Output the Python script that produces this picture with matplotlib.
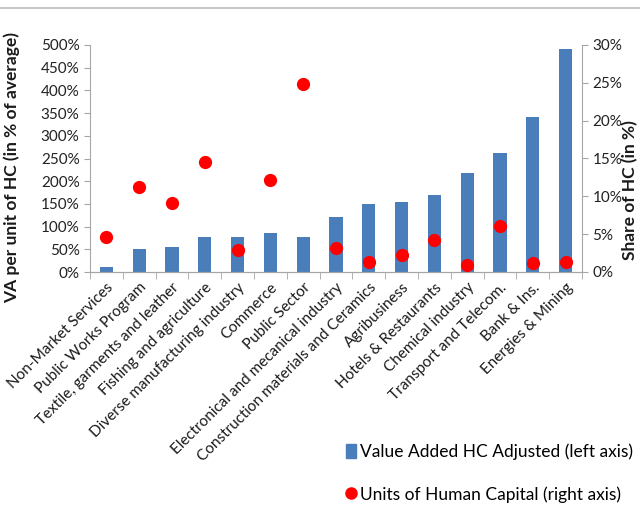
import numpy as np
import matplotlib.pyplot as plt
from matplotlib.lines import Line2D
from matplotlib.patches import Patch
from matplotlib.ticker import PercentFormatter

plt.rcParams['font.family'] = ['Lato', 'DejaVu Sans']

sectors = ["Non-Market Services", "Public Works Program", "Textile, garments and leather",
           "Fishing and agriculture", "Diverse manufacturing industry", "Commerce",
           "Public Sector", "Electronical and mecanical industry",
           "Construction materials and Ceramics", "Agribusiness", "Hotels & Restaurants",
           "Chemical industry", "Transport and Telecom.", "Bank & Ins.", "Energies & Mining"]
va_adjusted = [10, 51, 56, 77, 77, 86, 77, 122, 150, 155, 170, 218, 263, 341, 491]  # % of average
hc_share = [4.6, 11.2, 9.1, 14.6, 2.9, 12.1, 24.8, 3.2, 1.3, 2.2, 4.2, 0.9, 6.1, 1.2, 1.3]  # %

blue = '#4a7ebb'
grey = '#a6a6a6'
x = np.arange(len(sectors))

fig = plt.figure(figsize=(6.4, 5.17), dpi=100)
ax = fig.add_axes([90/640, 1-272/517, 492/640, 227/517])
ax2 = ax.twinx()

ax.bar(x, va_adjusted, width=0.4, color=blue, zorder=2)
ax2.plot(x, hc_share, 'o', color='red', markersize=8.5, zorder=3)

ax.set_xlim(-0.5, len(sectors)-0.5)
ax.set_ylim(0, 500)
ax.set_yticks(np.arange(0, 501, 50))
ax.yaxis.set_major_formatter(PercentFormatter(decimals=0))
ax2.set_ylim(0, 30)
ax2.set_yticks(np.arange(0, 31, 5))
ax2.yaxis.set_major_formatter(PercentFormatter(decimals=0))

ax.set_xticks(x)
ax.set_xticklabels(sectors, rotation=45, ha='right', rotation_mode='anchor', fontsize=11, color='#1a1a1a')
ax.set_xticks(np.arange(-0.5, len(sectors), 1), minor=True)
ax.tick_params(axis='x', which='major', length=0, pad=6)
ax.tick_params(axis='x', which='minor', length=5, color=grey)
ax.tick_params(axis='y', length=4, color=grey, labelsize=11, labelcolor='#222222')
ax2.tick_params(axis='y', length=4, color=grey, labelsize=11, labelcolor='#222222')

for a in (ax, ax2):
    a.spines['top'].set_visible(False)
    for s in ('left', 'right', 'bottom'):
        a.spines[s].set_color(grey)
ax2.spines['left'].set_visible(False)
ax.spines['right'].set_visible(False)

fig.text(12/640, 1-168/517, "VA per unit of HC (in % of average)", rotation=90,
         ha='center', va='center', fontsize=12.5, fontweight='bold', color='#1a1a1a')
fig.text(630/640, 1-190/517, "Share of HC (in %)", rotation=90,
         ha='center', va='center', fontsize=12.5, fontweight='bold', color='#1a1a1a')

handles = [Patch(color=blue), Line2D([], [], marker='o', color='red', linestyle='none', markersize=8)]
fig.legend(handles, ["Value Added HC Adjusted (left axis)", "Units of Human Capital (right axis)"],
           loc='center left', bbox_to_anchor=(330/640, 1-473/517), frameon=False,
           fontsize=12.5, labelspacing=1.5, handlelength=0.6, handletextpad=0.25, handleheight=0.9)

fig.add_artist(Line2D([0, 1], [1-8/517, 1-8/517], color='#bbbbbb', lw=1.2))

fig.savefig('out.png', dpi=100)
